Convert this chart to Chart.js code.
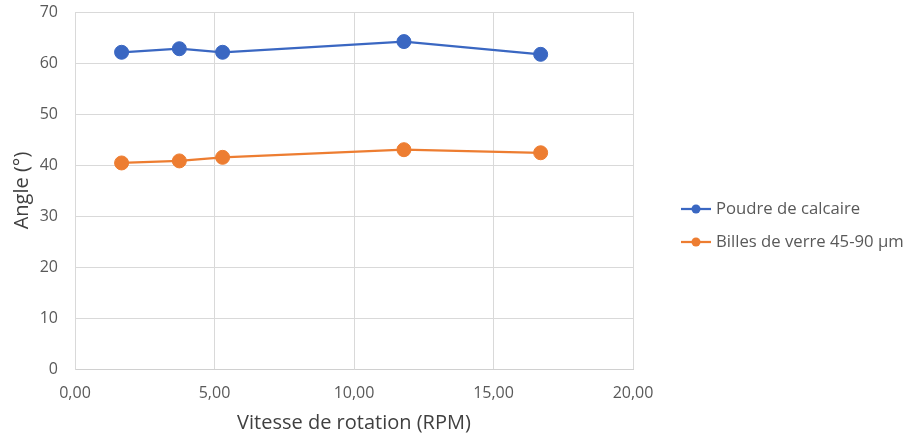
<!DOCTYPE html>
<html><head><meta charset="utf-8">
<script src="https://cdn.jsdelivr.net/npm/chart.js@4.4.0/dist/chart.umd.min.js"></script>
<style>html,body{margin:0;padding:0;background:#fff}#wrap{width:906px;height:436px}</style>
</head><body><div id="wrap"><canvas id="c" width="906" height="436"></canvas></div>
<script>
const speeds = [1.67, 3.74, 5.29, 11.79, 16.69];
const calcaire = [62.1, 62.8, 62.1, 64.2, 61.7];
const verre = [40.4, 40.8, 41.5, 43.0, 42.4];
const seriesNames = ['Poudre de calcaire', 'Billes de verre 45-90 µm'];
const seriesColors = ['#3A67C2', '#ED7D31'];
const xTicks = [0, 5, 10, 15, 20];
const xTickLabels = ['0,00', '5,00', '10,00', '15,00', '20,00'];
const yTicks = [0, 10, 20, 30, 40, 50, 60, 70];
const xTitle = 'Vitesse de rotation (RPM)';
const yTitle = 'Angle (°)';

const FONT = "'Open Sans', sans-serif";

function toPoints(xs, ys) { return xs.map((x, i) => ({ x: x, y: ys[i] })); }

const legendPlugin = {
  id: 'sideLegend',
  afterDraw(chart, args, opts) {
    const ctx = chart.ctx;
    ctx.save();
    chart.data.datasets.forEach((ds, i) => {
      const y = opts.y + i * opts.spacing;
      ctx.strokeStyle = ds.borderColor;
      ctx.lineWidth = 2.25;
      ctx.beginPath();
      ctx.moveTo(opts.x, y);
      ctx.lineTo(opts.x + opts.lineLen, y);
      ctx.stroke();
      ctx.fillStyle = ds.backgroundColor;
      ctx.beginPath();
      ctx.arc(opts.x + opts.lineLen / 2, y, 4.5, 0, Math.PI * 2);
      ctx.fill();
      ctx.fillStyle = '#595959';
      ctx.font = opts.font;
      ctx.textBaseline = 'middle';
      ctx.textAlign = 'left';
      ctx.fillText(ds.label, opts.x + opts.lineLen + opts.gap, y);
    });
    ctx.restore();
  }
};

new Chart(document.getElementById('c'), {
  type: 'scatter',
  data: {
    datasets: [
      { label: seriesNames[0], data: toPoints(speeds, calcaire), showLine: true,
        borderColor: seriesColors[0], backgroundColor: seriesColors[0],
        borderWidth: 2.25, pointRadius: 7, pointHoverRadius: 7, pointBorderWidth: 1 },
      { label: seriesNames[1], data: toPoints(speeds, verre), showLine: true,
        borderColor: seriesColors[1], backgroundColor: seriesColors[1],
        borderWidth: 2.25, pointRadius: 7, pointHoverRadius: 7, pointBorderWidth: 1 }
    ]
  },
  options: {
    responsive: false,
    animation: false,
    events: [],
    layout: { autoPadding: false, padding: { top: 12, right: 273, bottom: 0, left: 0 } },
    plugins: {
      legend: { display: false },
      tooltip: { enabled: false },
      sideLegend: { x: 681, y: 209, spacing: 33, lineLen: 30, gap: 5, font: "16.7px " + FONT }
    },
    scales: {
      x: {
        type: 'linear', min: 0, max: 20,
        afterBuildTicks: (axis) => { axis.ticks = xTicks.map(v => ({ value: v })); },
        afterFit: (axis) => { axis.height = 67; },
        ticks: { padding: 15, color: '#595959', font: { family: FONT, size: 16 },
          callback: (v, i) => xTickLabels[i] },
        grid: { color: '#d9d9d9', lineWidth: 1, drawTicks: false },
        border: { color: '#d0d0d0', width: 1 },
        title: { display: true, text: xTitle, color: '#404040',
          font: { family: FONT, size: 20 }, padding: { top: 4, bottom: 1 } }
      },
      y: {
        type: 'linear', min: 0, max: 70,
        afterBuildTicks: (axis) => { axis.ticks = yTicks.map(v => ({ value: v })); },
        afterFit: (axis) => { axis.width = 75; axis.paddingTop = 10; axis.paddingBottom = 10; },
        ticks: { padding: 17, color: '#595959', font: { family: FONT, size: 16 } },
        grid: { color: '#d9d9d9', lineWidth: 1, drawTicks: false },
        border: { color: '#d9d9d9', width: 1 },
        title: { display: true, text: yTitle, color: '#404040',
          font: { family: FONT, size: 20 }, padding: { top: 10, bottom: 4 } }
      }
    }
  },
  plugins: [legendPlugin]
});
</script>
</body></html>
